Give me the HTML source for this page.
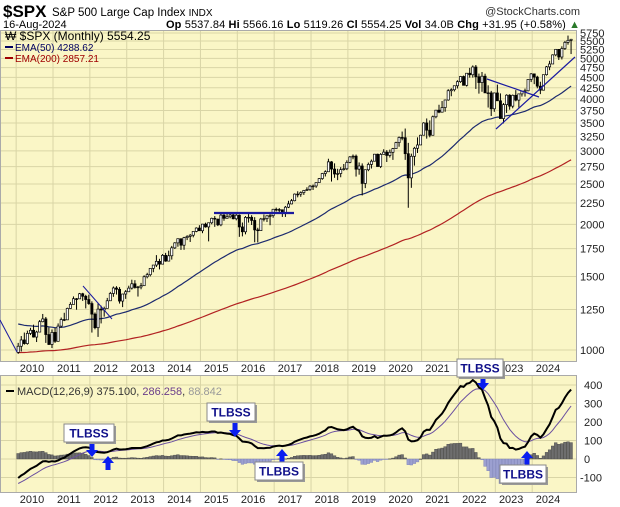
<!DOCTYPE html>
<html><head><meta charset="utf-8"><style>
html,body{margin:0;padding:0;background:#fff;}
svg{display:block;font-family:"Liberation Sans",sans-serif;}
</style></head><body>
<svg id="chart" width="620" height="507" viewBox="0 0 620 507" xmlns="http://www.w3.org/2000/svg">
<g>
<text x="3" y="17" font-size="17" font-weight="bold" fill="#000">$SPX</text>
<text x="52" y="16" font-size="11.5" fill="#000">S&amp;P 500 Large Cap Index <tspan font-size="10">INDX</tspan></text>
<text x="580" y="15" font-size="11" fill="#333" text-anchor="end">@StockCharts.com</text>
<text x="3" y="28" font-size="11" fill="#000">16-Aug-2024</text>
<text x="166" y="28" font-size="11" fill="#000" textLength="414" lengthAdjust="spacing"><tspan font-weight="bold">Op</tspan> 5537.84 <tspan font-weight="bold">Hi</tspan> 5566.16 <tspan font-weight="bold">Lo</tspan> 5119.26 <tspan font-weight="bold">Cl</tspan> 5554.25 <tspan font-weight="bold">Vol</tspan> 34.0B <tspan font-weight="bold">Chg</tspan> +31.95 (+0.58%) <tspan fill="#2a7a2a">▲</tspan></text>
</g>
<rect x="0.5" y="30.5" width="576" height="331" fill="#faf6c6" stroke="#aaa"/>
<rect x="0.5" y="375.5" width="576" height="117" fill="#faf6c6" stroke="#aaa"/>
<g id="grid"></g>
<g id="marks"></g>
<g>
<text x="5" y="40" font-size="12" fill="#000">₩ $SPX (Monthly) 5554.25</text>
<line x1="5" y1="47" x2="13" y2="47" stroke="#000060" stroke-width="2"/>
<text x="15" y="51" font-size="10" fill="#000060">EMA(50) 4288.62</text>
<line x1="5" y1="58" x2="13" y2="58" stroke="#a00000" stroke-width="2"/>
<text x="15" y="62" font-size="10" fill="#a00000">EMA(200) 2857.21</text>
<line x1="6" y1="391" x2="14" y2="391" stroke="#000" stroke-width="2"/>
<text x="17" y="395" font-size="11" fill="#333">MACD(12,26,9) 375.100, <tspan fill="#6a3d8a">286.258</tspan>, <tspan fill="#999">88.842</tspan></text>
</g>
<g id="annot"></g>
</svg>
<script>
const NS="http://www.w3.org/2000/svg";
const startYear=2009, startMonth=7; // Aug 2009
const firstOpen=987;
const closes=[1021,1057,1036,1096,1115,
1074,1104,1169,1187,1089,1031,1102,1049,1141,1183,1181,1258,
1286,1327,1326,1364,1345,1321,1292,1219,1131,1253,1247,1258,
1312,1366,1408,1398,1310,1362,1379,1407,1441,1412,1416,1426,
1498,1515,1569,1598,1631,1606,1686,1633,1682,1757,1806,1848,
1783,1859,1872,1884,1924,1960,1931,2003,1972,2018,2068,2059,
1995,2105,2068,2086,2107,2063,2104,1972,1920,2079,2080,2044,
1940,1932,2060,2065,2097,2099,2174,2171,2168,2126,2199,2239,
2279,2364,2363,2384,2412,2423,2470,2472,2519,2575,2648,2674,
2824,2714,2641,2648,2705,2718,2816,2902,2914,2712,2760,2507,
2704,2784,2834,2946,2752,2942,2980,2926,2977,3038,3141,3231,
3226,2954,2585,2912,3044,3100,3271,3500,3363,3270,3622,3756,
3714,3811,3973,4181,4204,4298,4395,4523,4308,4605,4567,4766,
4516,4374,4530,4132,4132,3785,4130,3955,3586,3872,4080,3840,
4077,3970,4109,4169,4180,4450,4589,4508,4288,4194,4568,4770,
4846,5096,5254,5036,5278,5460,5522,5554];
const highs=[1040,1080,1101,1113,1130,
1150,1112,1180,1220,1200,1132,1120,1130,1158,1196,1228,1263,
1302,1344,1332,1370,1371,1356,1357,1308,1230,1293,1277,1270,
1333,1378,1420,1422,1415,1363,1392,1426,1474,1470,1424,1448,
1510,1531,1570,1598,1688,1654,1698,1709,1730,1776,1813,1849,
1850,1867,1884,1897,1924,1968,1991,2005,2019,2018,2076,2094,
2064,2120,2117,2126,2135,2130,2133,2113,2021,2094,2117,2104,
2081,1963,2073,2112,2103,2121,2178,2194,2188,2169,2214,2278,
2301,2372,2401,2399,2419,2454,2484,2491,2520,2583,2657,2695,
2873,2836,2801,2718,2743,2791,2848,2916,2941,2940,2815,2800,
2708,2813,2860,2950,2954,2964,3028,3013,3022,3050,3155,3248,
3338,3394,3136,2955,3068,3233,3280,3515,3588,3550,3646,3760,
3870,3950,3983,4218,4238,4302,4430,4537,4546,4608,4744,4808,
4819,4596,4637,4593,4308,4178,4140,4325,4120,3906,4100,4101,
4095,4195,4110,4170,4231,4458,4608,4595,4541,4394,4568,4794,
4932,5112,5265,5264,5342,5505,5669,5566];
const lows=[979,992,1030,1030,1086,
1071,1045,1105,1165,1040,1028,1011,1040,1049,1131,1173,1187,
1256,1290,1249,1325,1311,1258,1283,1101,1121,1075,1158,1202,
1258,1311,1341,1358,1292,1267,1326,1378,1396,1403,1343,1398,
1426,1485,1501,1536,1581,1560,1605,1627,1633,1647,1746,1768,
1737,1738,1834,1815,1862,1915,1930,1905,1964,1821,2001,1973,
1981,1980,2040,2067,2068,2056,2045,1867,1872,1893,2020,1993,
1812,1810,1932,2033,2026,1991,2075,2148,2120,2084,2084,2188,
2234,2271,2322,2329,2353,2406,2407,2418,2447,2520,2557,2605,
2683,2533,2586,2553,2594,2691,2698,2803,2865,2604,2631,2346,
2443,2682,2722,2848,2751,2729,2955,2822,2892,2855,3050,3070,
3181,2855,2192,2447,2766,2966,3115,3280,3210,3234,3280,3592,
3694,3718,3723,3956,4056,4164,4233,4368,4305,4279,4495,4496,
4223,4115,4157,4131,3811,3637,3722,3955,3585,3492,3699,3765,
3795,3944,3809,4049,4048,4167,4386,4336,4238,4104,4185,4546,
4683,4854,5057,4954,4968,5235,5390,5119];
const priceTicks=[1000,1250,1500,1750,2000,2250,2500,2750,3000,3250,3500,3750,4000,4250,4500,4750,5000,5250,5500,5750];
const macdTicks=[-100,0,100,200,300,400];
const yearLabels=[2010,2011,2012,2013,2014,2015,2016,2017,2018,2019,2020,2021,2022,2023,2024];
const emaSeeds={ema50:1160,ema200:985,ema12:975,ema26:1090,signal:-140};

function xT(t){return 32+(t-2010)*36.86;}
function xM(i){return xT(startYear+(startMonth+i+0.5)/12);}
function yP(v){return 350-(Math.log10(v)-3)*417.3;}
function yM(v){return 459-v*0.185;}

function mk(tag,attrs,parent){const e=document.createElementNS(NS,tag);for(const k in attrs)e.setAttribute(k,attrs[k]);parent.appendChild(e);return e;}
const grid=document.getElementById('grid'),marks=document.getElementById('marks'),annot=document.getElementById('annot');

priceTicks.forEach(v=>{
 const y=yP(v);
 const l=mk('line',{x1:1,x2:576,y1:y,y2:y,stroke:'#d9d5a6','stroke-width':1},grid);
 
 
 const t=mk('text',{x:580,y:y+4,'font-size':11,fill:'#222'},grid);
 
 
 t.textContent=v;
});
macdTicks.forEach(v=>{
 const y=yM(v);
 const l=mk('line',{x1:1,x2:576,y1:y,y2:y,stroke:'#d9d5a6','stroke-width':1},grid);
 
 
 const t=mk('text',{x:v<0?580:584,y:y+4,'font-size':11,fill:'#222'},grid);
 
 
 t.textContent=v;
});
yearLabels.forEach(yr=>{
 const gx=xT(yr-0.43);
 [[31,361],[376,492]].forEach(r=>{
  const l=mk('line',{x1:gx,x2:gx,y1:r[0],y2:r[1],stroke:'#d9d5a6','stroke-width':1},grid);
  
  
 });
 [372,503].forEach(y=>{
  const t=mk('text',{x:xT(yr),y:y,'font-size':11,fill:'#222','text-anchor':'middle'},grid);
  
  
  t.textContent=yr;
 });
});

const k=n=>2/(n+1);
let e50=emaSeeds.ema50,e200=emaSeeds.ema200,e12=emaSeeds.ema12,e26=emaSeeds.ema26,sig=emaSeeds.signal;
const p50=[],p200=[],pM=[],pS=[],hist=[];
closes.forEach((c,i)=>{
 e50+=k(50)*(c-e50);e200+=k(200)*(c-e200);
 e12+=k(12)*(c-e12);e26+=k(26)*(c-e26);
 const m=e12-e26;sig+=k(9)*(m-sig);
 p50.push([xM(i),yP(e50)]);p200.push([xM(i),yP(e200)]);
 pM.push([xM(i),yM(m)]);pS.push([xM(i),yM(sig)]);hist.push(m-sig);
});
const pathOf=pts=>pts.map((p,i)=>(i?'L':'M')+p[0].toFixed(1)+' '+p[1].toFixed(1)).join('');

hist.forEach((h,i)=>{
 const y0=yM(0),y1=yM(h);
 const r=mk('rect',{x:xM(i)-1.4,y:Math.min(y0,y1),width:2.8,height:Math.max(0.5,Math.abs(y1-y0)),fill:h>=0?'#6e6e6e':'#9ca0d0',stroke:h>=0?'#444':'#7a7fb8','stroke-width':0.4},marks);
 
 
});
let pe=mk('path',{d:pathOf(p200),fill:'none',stroke:'#b22222','stroke-width':1.2},marks);


pe=mk('path',{d:pathOf(p50),fill:'none',stroke:'#1c2a6e','stroke-width':1.2},marks);


pe=mk('path',{d:pathOf(pS),fill:'none',stroke:'#6a4fa0','stroke-width':1},marks);


pe=mk('path',{d:pathOf(pM),fill:'none',stroke:'#000','stroke-width':2},marks);



closes.forEach((c,i)=>{
 const o=i?closes[i-1]:firstOpen,x=xM(i);
 const w=mk('line',{x1:x,x2:x,y1:yP(highs[i]),y2:yP(lows[i]),stroke:'#000','stroke-width':1},marks);
 
 
 const top=yP(Math.max(o,c)),bot=yP(Math.min(o,c));
 const b=mk('rect',{x:x-1.1,y:top,width:2.2,height:Math.max(0.8,bot-top),fill:c>=o?'#fff':'#000',stroke:'#000','stroke-width':0.7},marks);
 
 
});

[[0,320,17,352,1],[83,286,112,319,1],[214,213,294,213,2.2],[487,79,539,97,1.2],[496,129,575,57,1.2]].forEach(s=>{
 const l=mk('line',{x1:s[0],y1:s[1],x2:s[2],y2:s[3],stroke:'#1a1aa0','stroke-width':s[4]},annot);
 
 
});

function arrow(x,y1,y2){
 const dir=y2>y1?1:-1,len=Math.abs(y2-y1),head=Math.min(7,len*0.55);
 const yh=y2-dir*head;
 const p=mk('polygon',{points:[[x-2.5,y1],[x+2.5,y1],[x+2.5,yh],[x+6,yh],[x,y2],[x-6,yh],[x-2.5,yh]].map(q=>q.join(',')).join(' '),fill:'#0a1ef0'},annot);
 
 
}
function box(x,y,w,h,txt){
 const s=mk('rect',{x:x+2,y:y+2,width:w,height:h,fill:'#999'},annot);
 
 
 const r=mk('rect',{x:x,y:y,width:w,height:h,fill:'#fff',stroke:'#888','stroke-width':1},annot);
 
 
 const t=mk('text',{x:x+w/2,y:y+h/2+4.5,'font-size':12,'font-weight':'bold',fill:'#10108a','text-anchor':'middle'},annot);
 
 
 t.textContent=txt;
}
arrow(92,442,457);arrow(108,470,456);
box(64,424,50,18,'TLBSS');
arrow(235,421,437);
box(207,403,48,18,'TLBSS');
arrow(282,462,449);
box(255,462,48,18,'TLBBS');
arrow(483,377,390);
box(457,359,46,18,'TLBSS');
arrow(527,465,451);
box(500,465,46,18,'TLBBS');
</script>
</body></html>
